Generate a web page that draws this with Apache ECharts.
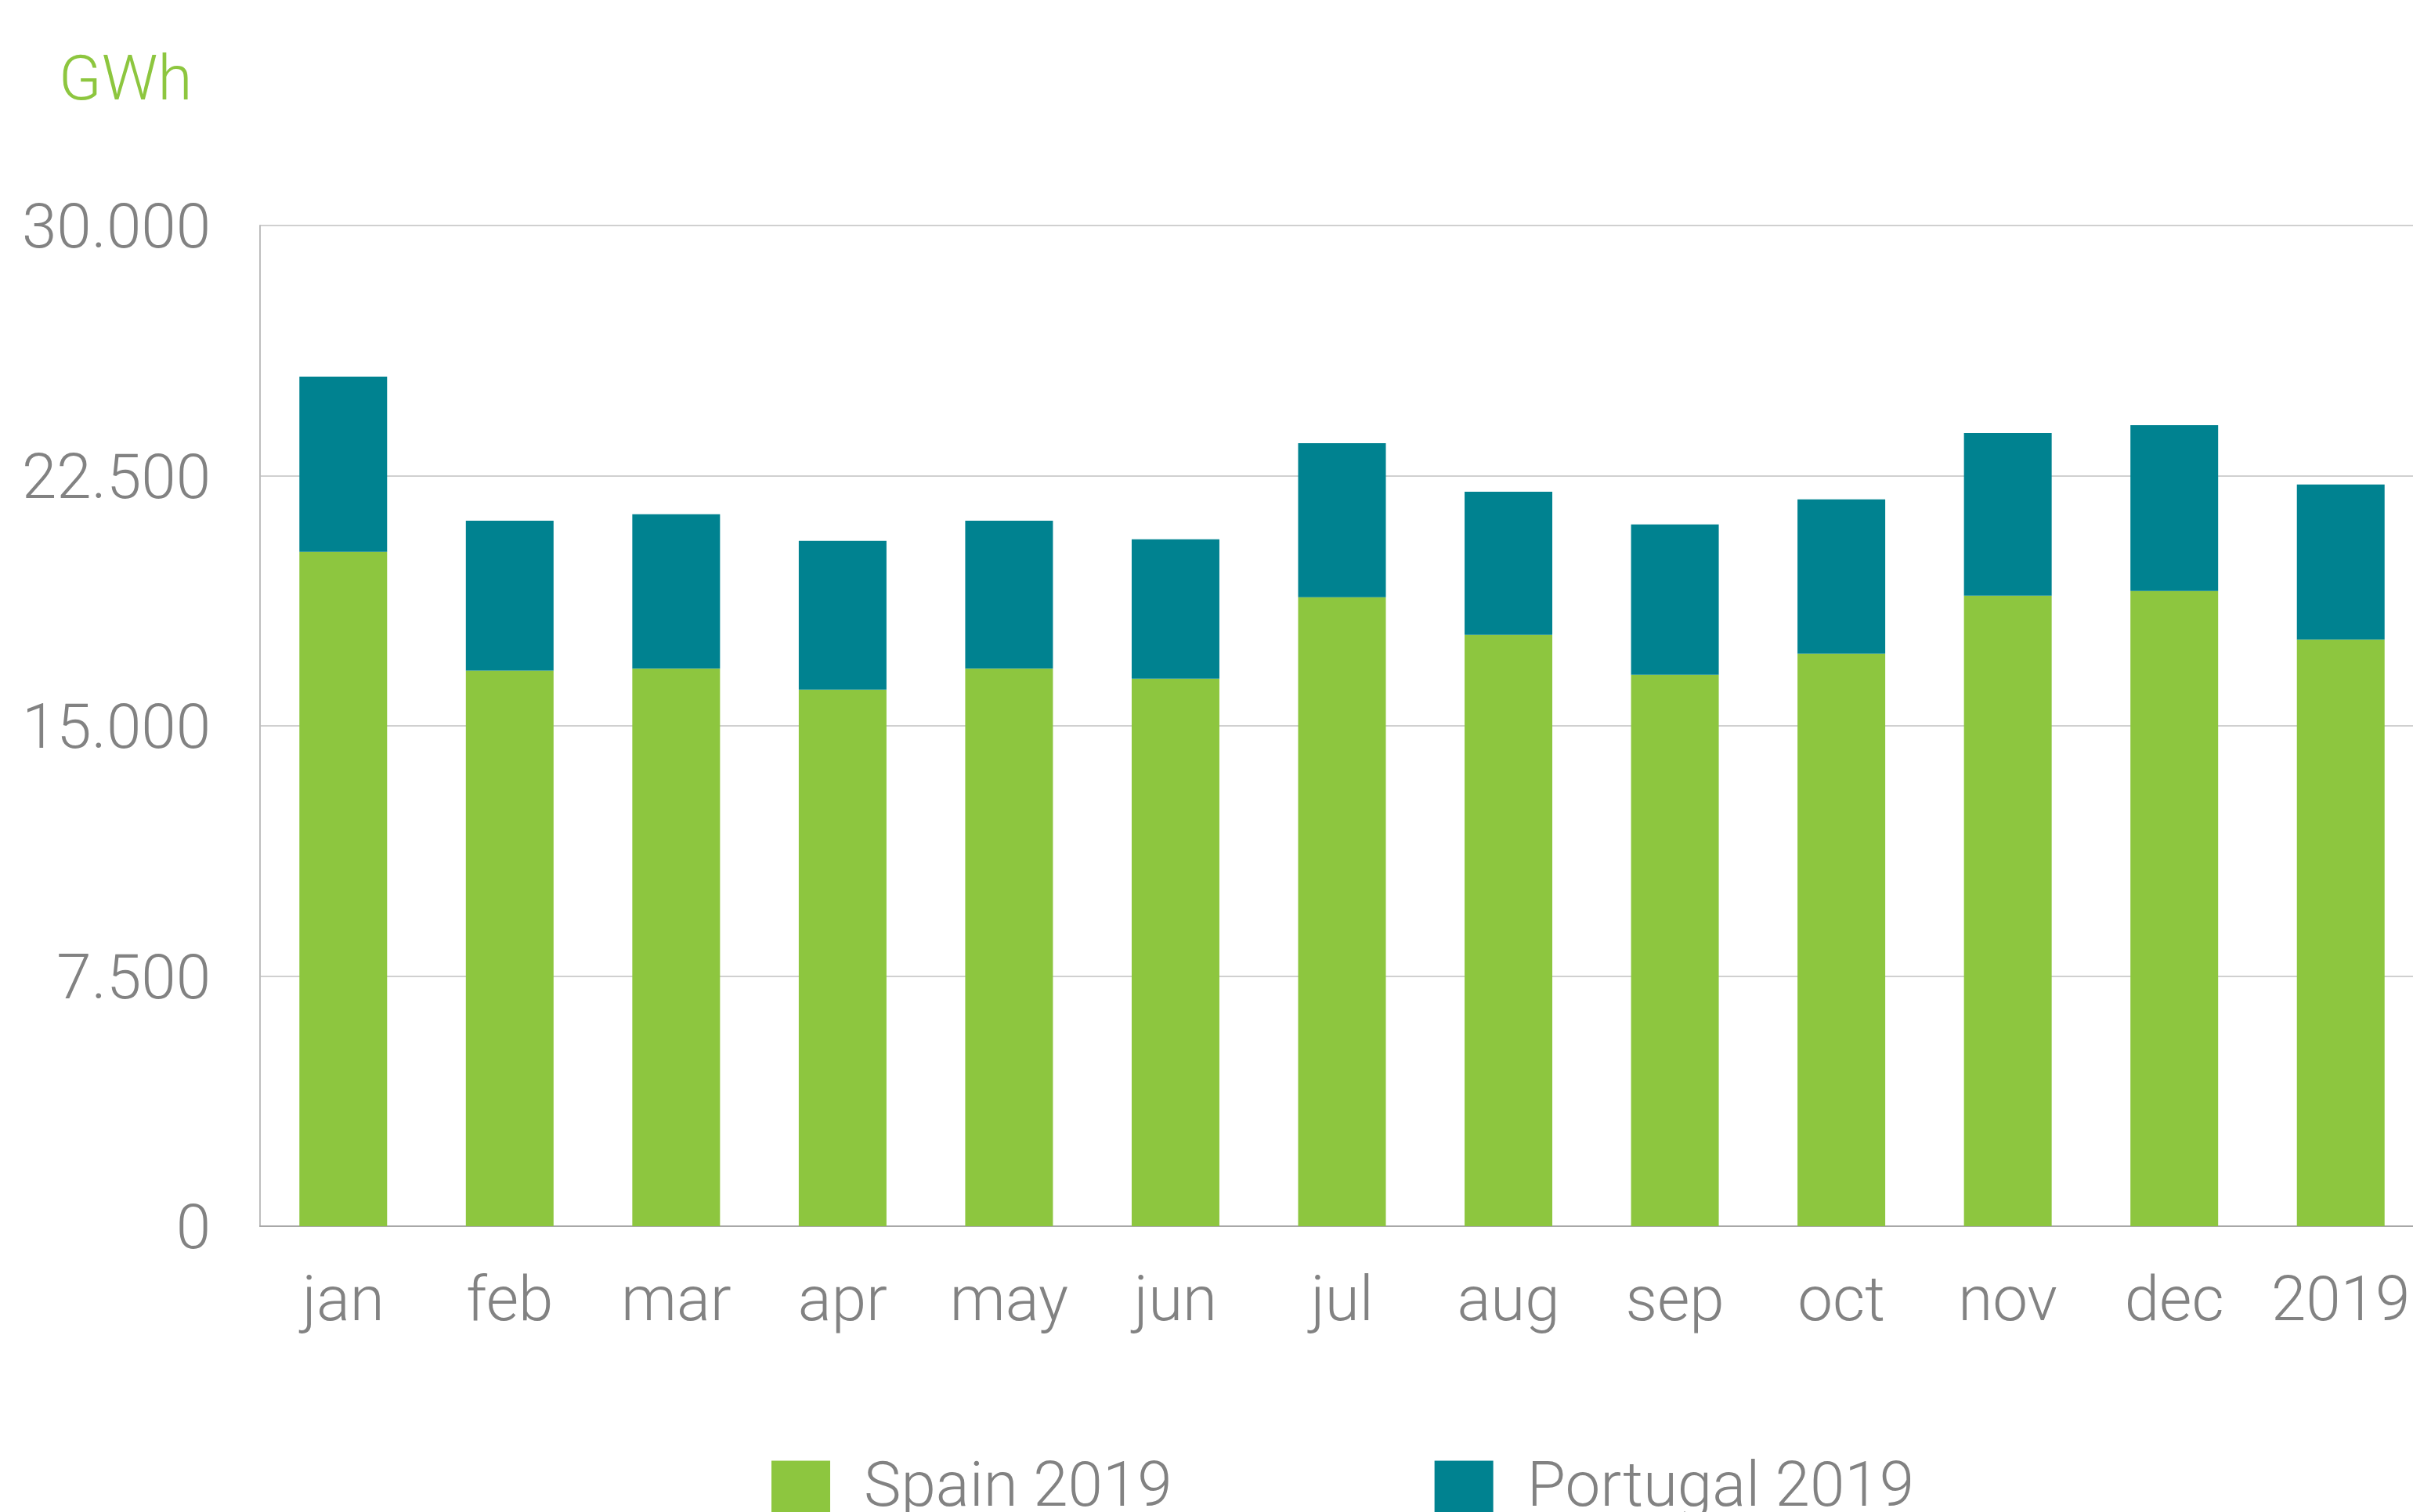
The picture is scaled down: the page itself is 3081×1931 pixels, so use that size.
<!DOCTYPE html>
<html>
<head>
<meta charset="utf-8">
<script src="https://cdn.jsdelivr.net/npm/echarts@6/dist/echarts.min.js"></script>
<style>
html,body{margin:0;padding:0;background:#fff;}
#chart{width:3081px;height:1931px;}
</style>
</head>
<body>
<div id="chart"></div>
<script>
const categories = ['jan','feb','mar','apr','may','jun','jul','aug','sep','oct','nov','dec','2019'];
const spain2019 = [20215,16655,16718,16084,16718,16413,18853,17727,16530,17164,18900,19041,17586];
const portugal2019 = [5256,4498,4623,4459,4435,4177,4623,4294,4506,4623,4882,4975,4647];
const yTicks = [0,7500,15000,22500,30000];
const unitLabel = 'GWh';

const FONT = 'Roboto';
const GRAY = '#828282';

function fmt(v){
  return '{a|' + String(v).replace(/\B(?=(\d{3})+(?!\d))/g,'.') + '}';
}

const chart = echarts.init(document.getElementById('chart'));
chart.setOption({
  backgroundColor:'#ffffff',
  animation:false,
  title:{
    text:unitLabel,
    left:70,
    top:62,
    textStyle:{color:'#8dc63f',fontFamily:FONT,fontWeight:300,fontSize:80}
  },
  legend:{
    left:980,
    top:1858,
    itemWidth:75,
    itemHeight:75,
    itemGap:335,
    icon:'rect',
    textStyle:{color:GRAY,fontFamily:FONT,fontWeight:300,fontSize:80,padding:[0,0,0,38]},
    data:['Spain 2019','Portugal 2019']
  },
  grid:{left:332,width:2763,top:288,bottom:365,containLabel:false,outerBoundsMode:'none'},
  xAxis:{
    type:'category',
    data:categories,
    axisTick:{show:false},
    axisLine:{lineStyle:{color:'#a8a8a8',width:2}},
    axisLabel:{color:GRAY,fontFamily:FONT,fontWeight:300,fontSize:80,margin:60,interval:0}
  },
  yAxis:{
    type:'value',
    min:yTicks[0],
    max:yTicks[yTicks.length-1],
    interval:yTicks[1]-yTicks[0],
    axisLine:{show:true,lineStyle:{color:'#bdbdbd',width:2}},
    axisTick:{show:false},
    splitLine:{lineStyle:{color:'#d0d0d0',width:2}},
    axisLabel:{
      color:GRAY,fontFamily:FONT,fontWeight:300,fontSize:80,margin:63,formatter:fmt,
      rich:{a:{color:GRAY,fontFamily:FONT,fontWeight:300,fontSize:80,padding:[16,0,0,0]}}
    }
  },
  series:[
    {name:'Spain 2019',type:'bar',stack:'t',data:spain2019,barWidth:112,itemStyle:{color:'#8dc63f'}},
    {name:'Portugal 2019',type:'bar',stack:'t',data:portugal2019,barWidth:112,itemStyle:{color:'#008290'}}
  ]
});
</script>
</body>
</html>
